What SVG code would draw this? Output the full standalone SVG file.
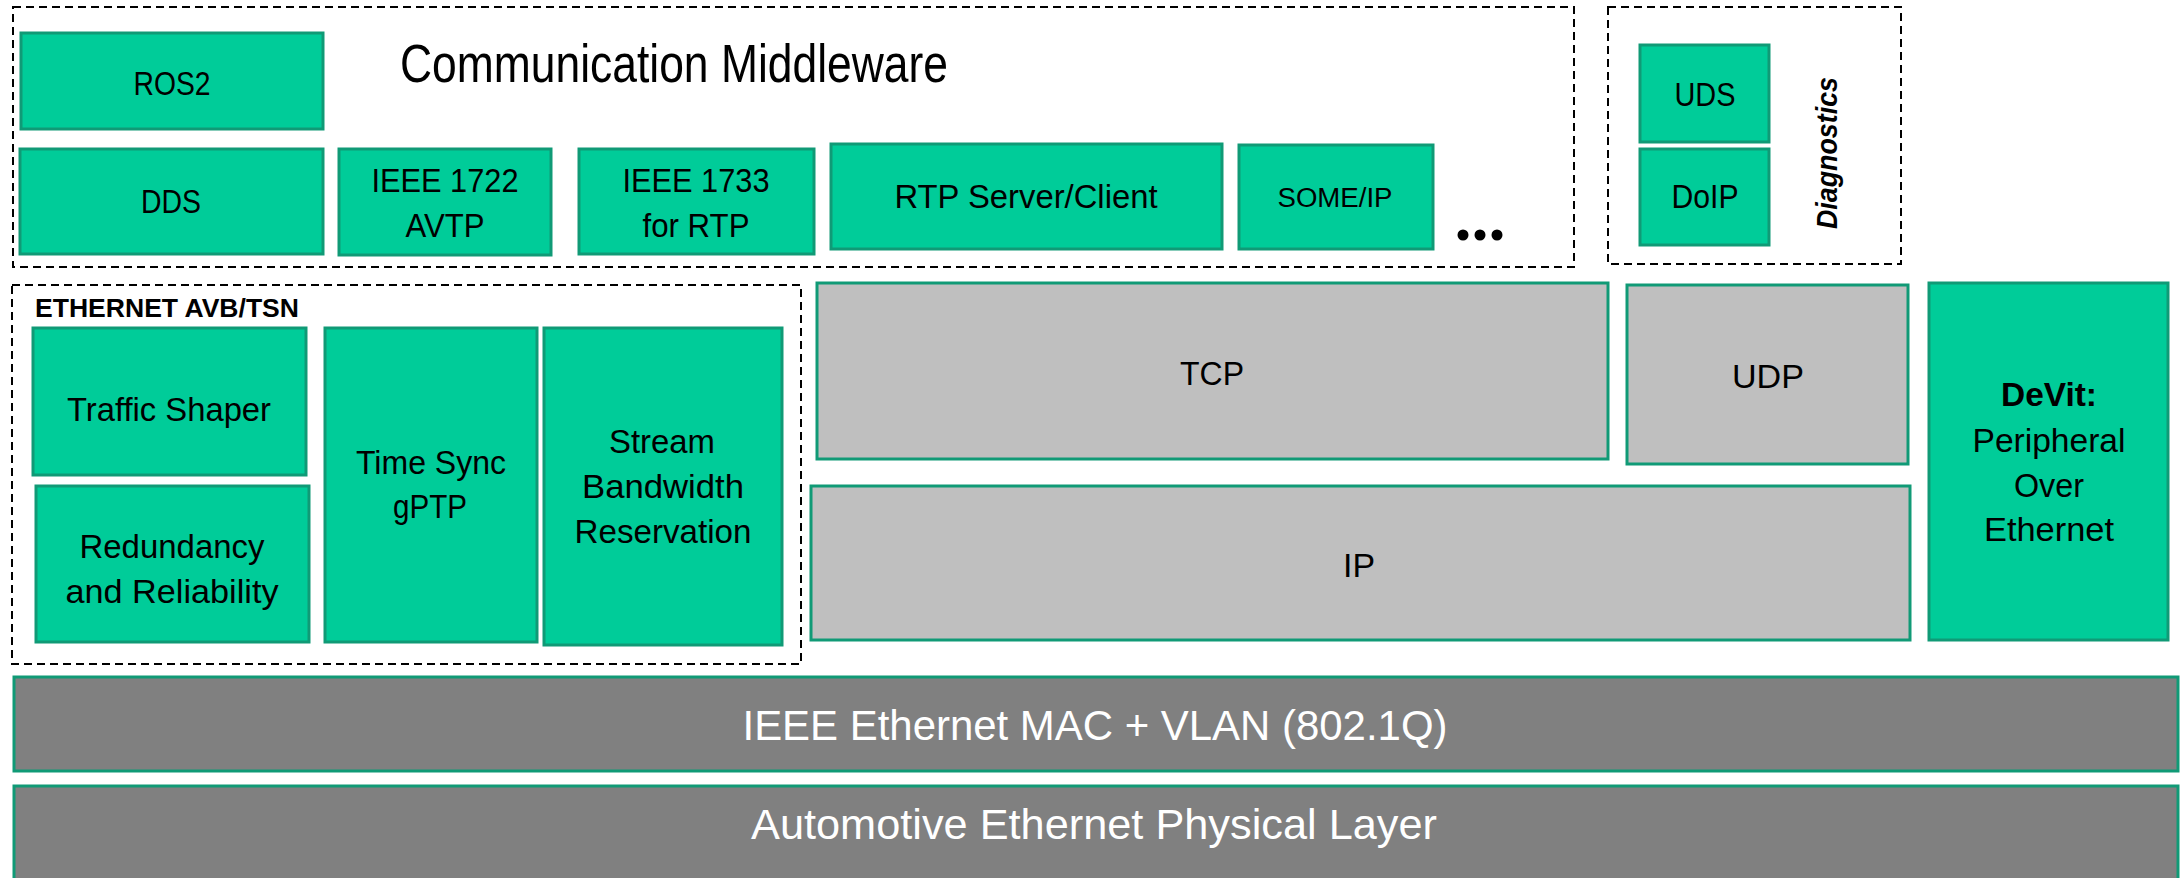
<svg xmlns="http://www.w3.org/2000/svg" width="2180" height="878" viewBox="0 0 2180 878">
<style>
.g{fill:#00CC99;stroke:#109A76;stroke-width:3}
.gr{fill:#BFBFBF;stroke:#109A76;stroke-width:3}
.dk{fill:#808080;stroke:#109A76;stroke-width:3}
.dash{fill:none;stroke:#000;stroke-width:2;stroke-dasharray:8 5}
text{font-family:"Liberation Sans",Arial,sans-serif;fill:#000;text-anchor:middle}
.t{font-size:34px}
.w{fill:#fff;font-size:43px}
</style>
<rect width="2180" height="878" fill="#fff"/>
<g id="middleware">
<rect class="dash" x="13" y="7" width="1561" height="260"/>
<text x="400" y="82" style="font-size:53px;text-anchor:start" textLength="548" lengthAdjust="spacingAndGlyphs">Communication Middleware</text>
</g>
<g id="diagnostics">
<rect class="dash" x="1608" y="7" width="293" height="257"/>
<text transform="translate(1837,153) rotate(-90)" style="font-size:29px;font-weight:bold;font-style:italic" textLength="152" lengthAdjust="spacingAndGlyphs">Diagnostics</text>
</g>
<g id="avb">
<rect class="dash" x="12" y="285" width="789" height="379"/>
<text x="35" y="317" style="font-size:26px;font-weight:bold;text-anchor:start" textLength="264" lengthAdjust="spacingAndGlyphs">ETHERNET AVB/TSN</text>
</g>
<g id="ros2"><rect class="g" x="21" y="33" width="302" height="96"/><text class="t" x="172" y="95" textLength="77" lengthAdjust="spacingAndGlyphs">ROS2</text></g>
<g id="dds"><rect class="g" x="20" y="149" width="303" height="105"/><text class="t" x="171" y="213" textLength="60" lengthAdjust="spacingAndGlyphs">DDS</text></g>
<g id="ieee1722"><rect class="g" x="339" y="149" width="212" height="106"/><text class="t" x="445" y="192" textLength="147" lengthAdjust="spacingAndGlyphs">IEEE 1722</text><text class="t" x="445" y="237" textLength="79" lengthAdjust="spacingAndGlyphs">AVTP</text></g>
<g id="ieee1733"><rect class="g" x="579" y="149" width="235" height="105"/><text class="t" x="696" y="192" textLength="147" lengthAdjust="spacingAndGlyphs">IEEE 1733</text><text class="t" x="696" y="237" textLength="107" lengthAdjust="spacingAndGlyphs">for RTP</text></g>
<g id="rtp"><rect class="g" x="831" y="144" width="391" height="105"/><text class="t" x="1026" y="208" textLength="263" lengthAdjust="spacingAndGlyphs">RTP Server/Client</text></g>
<g id="someip"><rect class="g" x="1239" y="145" width="194" height="104"/><text x="1335" y="207" style="font-size:27px" textLength="115" lengthAdjust="spacingAndGlyphs">SOME/IP</text></g>
<g id="more"><circle cx="1463" cy="235" r="5.5"/><circle cx="1480" cy="235" r="5.5"/><circle cx="1497" cy="235" r="5.5"/></g>
<g id="uds"><rect class="g" x="1640" y="45" width="129" height="97"/><text class="t" x="1705" y="106" textLength="61" lengthAdjust="spacingAndGlyphs">UDS</text></g>
<g id="doip"><rect class="g" x="1640" y="149" width="129" height="96"/><text class="t" x="1705" y="208" textLength="67" lengthAdjust="spacingAndGlyphs">DoIP</text></g>
<g id="traffic"><rect class="g" x="33" y="328" width="273" height="147"/><text class="t" x="169" y="421" textLength="204" lengthAdjust="spacingAndGlyphs">Traffic Shaper</text></g>
<g id="redundancy"><rect class="g" x="36" y="486" width="273" height="156"/><text class="t" x="172" y="558" textLength="185" lengthAdjust="spacingAndGlyphs">Redundancy</text><text class="t" x="172" y="603" textLength="213" lengthAdjust="spacingAndGlyphs">and Reliability</text></g>
<g id="timesync"><rect class="g" x="325" y="328" width="212" height="314"/><text class="t" x="431" y="474" textLength="150" lengthAdjust="spacingAndGlyphs">Time Sync</text><text class="t" x="430" y="518" textLength="74" lengthAdjust="spacingAndGlyphs">gPTP</text></g>
<g id="srp"><rect class="g" x="544" y="328" width="238" height="317"/><text class="t" x="662" y="453" textLength="106" lengthAdjust="spacingAndGlyphs">Stream</text><text class="t" x="663" y="498" textLength="162" lengthAdjust="spacingAndGlyphs">Bandwidth</text><text class="t" x="663" y="543" textLength="177" lengthAdjust="spacingAndGlyphs">Reservation</text></g>
<g id="tcp"><rect class="gr" x="817" y="283" width="791" height="176"/><text class="t" x="1212" y="385" textLength="64" lengthAdjust="spacingAndGlyphs">TCP</text></g>
<g id="udp"><rect class="gr" x="1627" y="285" width="281" height="179"/><text class="t" x="1768" y="388" textLength="72" lengthAdjust="spacingAndGlyphs">UDP</text></g>
<g id="ip"><rect class="gr" x="811" y="486" width="1099" height="154"/><text class="t" x="1359" y="577" textLength="32" lengthAdjust="spacingAndGlyphs">IP</text></g>
<g id="devit"><rect class="g" x="1929" y="283" width="239" height="357"/><text class="t" x="2049" y="406" style="font-weight:bold" textLength="96" lengthAdjust="spacingAndGlyphs">DeVit:</text><text class="t" x="2049" y="452" textLength="153" lengthAdjust="spacingAndGlyphs">Peripheral</text><text class="t" x="2049" y="497" textLength="70" lengthAdjust="spacingAndGlyphs">Over</text><text class="t" x="2049" y="541" textLength="130" lengthAdjust="spacingAndGlyphs">Ethernet</text></g>
<g id="mac"><rect class="dk" x="14" y="677" width="2164" height="94"/><text class="w" x="1095" y="740" textLength="705" lengthAdjust="spacingAndGlyphs">IEEE Ethernet MAC + VLAN (802.1Q)</text></g>
<g id="phy"><rect class="dk" x="14" y="786" width="2164" height="94"/><text class="w" x="1094" y="839" textLength="686" lengthAdjust="spacingAndGlyphs">Automotive Ethernet Physical Layer</text></g>
<g id="connectors"></g>
</svg>
